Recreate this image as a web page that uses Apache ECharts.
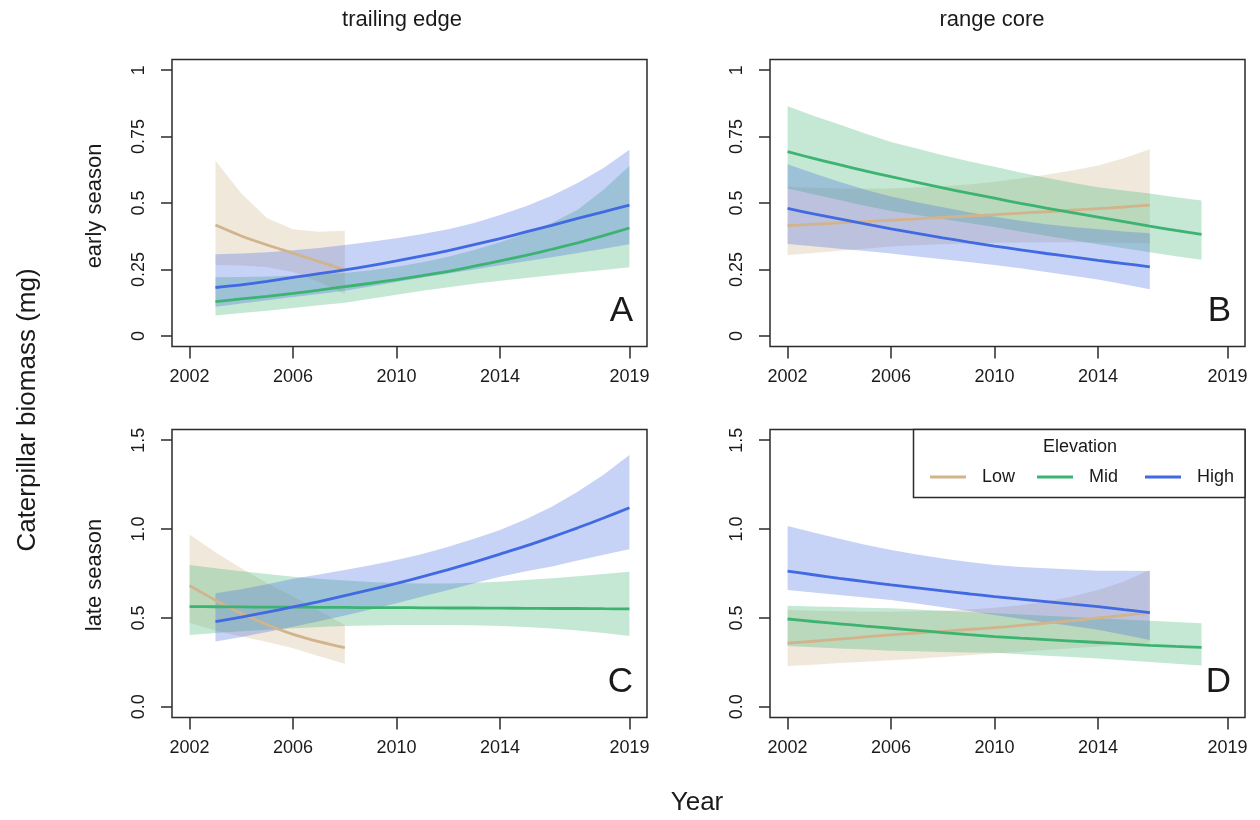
<!DOCTYPE html>
<html>
<head>
<meta charset="utf-8">
<script src="https://cdn.jsdelivr.net/npm/echarts@6/dist/echarts.min.js"></script>
<style>
  html, body { margin: 0; padding: 0; background: #ffffff; }
  #chart { width: 1260px; height: 820px; }
</style>
</head>
<body>
<div id="chart"></div>
<script>
// ---- years covered by each fitted curve ----
const YEARS_03_08 = [2003, 2004, 2005, 2006, 2007, 2008];
const YEARS_03_19 = [2003, 2004, 2005, 2006, 2007, 2008, 2009, 2010, 2011, 2012, 2013, 2014, 2015, 2016, 2017, 2018, 2019];
const YEARS_02_08 = [2002, 2003, 2004, 2005, 2006, 2007, 2008];
const YEARS_02_16 = [2002, 2003, 2004, 2005, 2006, 2007, 2008, 2009, 2010, 2011, 2012, 2013, 2014, 2015, 2016];
const YEARS_02_18 = [2002, 2003, 2004, 2005, 2006, 2007, 2008, 2009, 2010, 2011, 2012, 2013, 2014, 2015, 2016, 2017, 2018];
const YEARS_02_19 = [2002, 2003, 2004, 2005, 2006, 2007, 2008, 2009, 2010, 2011, 2012, 2013, 2014, 2015, 2016, 2017, 2018, 2019];

// ---- tick labels ----
const X_TICKS = [2002, 2006, 2010, 2014, 2019];
const Y_TICKS_EARLY = [0, 0.25, 0.5, 0.75, 1];
const Y_TICKS_LATE = [0, 0.5, 1, 1.5];

// ---- text ----
const COLUMN_TITLES = ['trailing edge', 'range core'];
const ROW_TITLES = ['early season', 'late season'];
const PANEL_LETTERS = ['A', 'B', 'C', 'D'];
const ELEVATIONS = ['Low', 'Mid', 'High'];

// ---- A: early season, trailing edge ----
const A_LOW_FIT = [0.417, 0.376, 0.342, 0.311, 0.280, 0.248];
const A_LOW_LO  = [0.267, 0.265, 0.258, 0.240, 0.203, 0.158];
const A_LOW_HI  = [0.659, 0.536, 0.443, 0.401, 0.392, 0.396];
const A_MID_FIT = [0.129, 0.139, 0.149, 0.160, 0.172, 0.185, 0.198, 0.212, 0.227, 0.243, 0.262, 0.282, 0.303, 0.326, 0.350, 0.377, 0.406];
const A_MID_LO  = [0.077, 0.086, 0.095, 0.105, 0.115, 0.125, 0.140, 0.155, 0.170, 0.183, 0.196, 0.207, 0.218, 0.228, 0.238, 0.248, 0.258];
const A_MID_HI  = [0.221, 0.222, 0.223, 0.226, 0.230, 0.237, 0.247, 0.260, 0.277, 0.298, 0.323, 0.352, 0.386, 0.425, 0.475, 0.550, 0.639];
const A_HIGH_FIT = [0.182, 0.192, 0.205, 0.220, 0.234, 0.248, 0.264, 0.282, 0.301, 0.321, 0.343, 0.366, 0.391, 0.416, 0.442, 0.467, 0.492];
const A_HIGH_LO  = [0.110, 0.122, 0.134, 0.146, 0.158, 0.170, 0.186, 0.203, 0.220, 0.235, 0.250, 0.266, 0.281, 0.296, 0.312, 0.328, 0.345];
const A_HIGH_HI  = [0.307, 0.310, 0.315, 0.322, 0.331, 0.342, 0.354, 0.367, 0.383, 0.401, 0.425, 0.455, 0.488, 0.527, 0.575, 0.632, 0.700];

// ---- B: early season, range core ----
const B_LOW_FIT = [0.415, 0.420, 0.425, 0.430, 0.435, 0.440, 0.446, 0.451, 0.456, 0.462, 0.467, 0.473, 0.479, 0.485, 0.492];
const B_LOW_LO  = [0.304, 0.312, 0.320, 0.328, 0.336, 0.341, 0.345, 0.348, 0.350, 0.351, 0.352, 0.352, 0.351, 0.350, 0.348];
const B_LOW_HI  = [0.561, 0.557, 0.555, 0.554, 0.555, 0.558, 0.563, 0.570, 0.580, 0.592, 0.606, 0.622, 0.641, 0.668, 0.702];
const B_MID_FIT = [0.693, 0.668, 0.644, 0.621, 0.599, 0.578, 0.557, 0.537, 0.518, 0.499, 0.481, 0.464, 0.447, 0.430, 0.413, 0.397, 0.382];
const B_MID_LO  = [0.555, 0.533, 0.511, 0.490, 0.470, 0.455, 0.440, 0.425, 0.410, 0.393, 0.377, 0.361, 0.345, 0.330, 0.315, 0.300, 0.286];
const B_MID_HI  = [0.864, 0.828, 0.795, 0.762, 0.730, 0.705, 0.680, 0.657, 0.636, 0.615, 0.595, 0.576, 0.559, 0.547, 0.536, 0.522, 0.509];
const B_HIGH_FIT = [0.480, 0.459, 0.440, 0.421, 0.403, 0.386, 0.369, 0.353, 0.338, 0.324, 0.310, 0.297, 0.284, 0.272, 0.260];
const B_HIGH_LO  = [0.346, 0.337, 0.328, 0.319, 0.310, 0.299, 0.288, 0.278, 0.267, 0.254, 0.240, 0.226, 0.212, 0.194, 0.175];
const B_HIGH_HI  = [0.646, 0.612, 0.580, 0.550, 0.524, 0.503, 0.484, 0.465, 0.448, 0.433, 0.420, 0.410, 0.401, 0.393, 0.386];

// ---- C: late season, trailing edge ----
const C_LOW_FIT = [0.682, 0.600, 0.526, 0.462, 0.408, 0.367, 0.333];
const C_LOW_LO  = [0.473, 0.430, 0.395, 0.365, 0.330, 0.285, 0.242];
const C_LOW_HI  = [0.970, 0.870, 0.779, 0.695, 0.620, 0.540, 0.460];
const C_MID_FIT = [0.564, 0.563, 0.562, 0.561, 0.561, 0.560, 0.559, 0.558, 0.558, 0.557, 0.556, 0.556, 0.555, 0.554, 0.553, 0.553, 0.552, 0.551];
const C_MID_LO  = [0.404, 0.415, 0.425, 0.434, 0.442, 0.449, 0.454, 0.458, 0.460, 0.461, 0.461, 0.459, 0.455, 0.449, 0.440, 0.429, 0.415, 0.399];
const C_MID_HI  = [0.798, 0.780, 0.763, 0.747, 0.732, 0.720, 0.710, 0.702, 0.697, 0.694, 0.694, 0.698, 0.704, 0.713, 0.723, 0.735, 0.747, 0.760];
const C_HIGH_FIT = [0.479, 0.505, 0.533, 0.562, 0.592, 0.625, 0.659, 0.694, 0.732, 0.772, 0.814, 0.859, 0.905, 0.955, 1.007, 1.062, 1.120];
const C_HIGH_LO  = [0.367, 0.393, 0.421, 0.450, 0.481, 0.514, 0.548, 0.583, 0.620, 0.657, 0.695, 0.732, 0.762, 0.790, 0.823, 0.855, 0.886];
const C_HIGH_HI  = [0.639, 0.662, 0.690, 0.720, 0.745, 0.770, 0.797, 0.826, 0.860, 0.900, 0.945, 0.994, 1.055, 1.125, 1.210, 1.305, 1.416];

// ---- D: late season, range core ----
const D_LOW_FIT = [0.358, 0.369, 0.381, 0.393, 0.405, 0.415, 0.425, 0.435, 0.445, 0.458, 0.471, 0.485, 0.500, 0.515, 0.530];
const D_LOW_LO  = [0.229, 0.237, 0.246, 0.254, 0.262, 0.271, 0.280, 0.290, 0.300, 0.310, 0.320, 0.330, 0.340, 0.350, 0.360];
const D_LOW_HI  = [0.545, 0.540, 0.537, 0.535, 0.535, 0.537, 0.541, 0.548, 0.558, 0.572, 0.592, 0.620, 0.657, 0.705, 0.770];
const D_MID_FIT = [0.494, 0.480, 0.467, 0.454, 0.442, 0.430, 0.418, 0.406, 0.395, 0.386, 0.378, 0.370, 0.362, 0.354, 0.346, 0.340, 0.335];
const D_MID_LO  = [0.342, 0.335, 0.328, 0.322, 0.316, 0.312, 0.309, 0.306, 0.304, 0.296, 0.288, 0.280, 0.272, 0.262, 0.252, 0.242, 0.233];
const D_MID_HI  = [0.568, 0.565, 0.561, 0.558, 0.554, 0.547, 0.540, 0.533, 0.526, 0.519, 0.512, 0.505, 0.498, 0.491, 0.484, 0.477, 0.470];
const D_HIGH_FIT = [0.764, 0.743, 0.723, 0.704, 0.686, 0.669, 0.652, 0.636, 0.620, 0.606, 0.592, 0.578, 0.564, 0.547, 0.530];
const D_HIGH_LO  = [0.657, 0.643, 0.629, 0.615, 0.601, 0.581, 0.560, 0.539, 0.517, 0.496, 0.475, 0.454, 0.433, 0.405, 0.376];
const D_HIGH_HI  = [1.017, 0.980, 0.945, 0.912, 0.882, 0.857, 0.835, 0.815, 0.798, 0.787, 0.779, 0.772, 0.766, 0.765, 0.764];

// ---- styling ----
const FONT = 'Liberation Sans, Arial, Helvetica, sans-serif';
const INK = '#1a1a1a';
const FRAME = '#2b2b2b';
const LINE_COLORS = { Low: '#d2b48c', Mid: '#3cb371', High: '#4169e1' };
const BAND_COLORS = {
  Low: 'rgba(210,180,140,0.30)',
  Mid: 'rgba(60,179,113,0.30)',
  High: 'rgba(65,105,225,0.30)'
};

// Each panel: one band + fitted curve per elevation class
const PANELS = [
  { yMin: -0.04, yMax: 1.04, yTicks: Y_TICKS_EARLY, late: false, groups: [
    { name: 'Low',  years: YEARS_03_08, fit: A_LOW_FIT,  lo: A_LOW_LO,  hi: A_LOW_HI },
    { name: 'Mid',  years: YEARS_03_19, fit: A_MID_FIT,  lo: A_MID_LO,  hi: A_MID_HI },
    { name: 'High', years: YEARS_03_19, fit: A_HIGH_FIT, lo: A_HIGH_LO, hi: A_HIGH_HI } ] },
  { yMin: -0.04, yMax: 1.04, yTicks: Y_TICKS_EARLY, late: false, groups: [
    { name: 'Low',  years: YEARS_02_16, fit: B_LOW_FIT,  lo: B_LOW_LO,  hi: B_LOW_HI },
    { name: 'Mid',  years: YEARS_02_18, fit: B_MID_FIT,  lo: B_MID_LO,  hi: B_MID_HI },
    { name: 'High', years: YEARS_02_16, fit: B_HIGH_FIT, lo: B_HIGH_LO, hi: B_HIGH_HI } ] },
  { yMin: -0.06, yMax: 1.56, yTicks: Y_TICKS_LATE, late: true, groups: [
    { name: 'Low',  years: YEARS_02_08, fit: C_LOW_FIT,  lo: C_LOW_LO,  hi: C_LOW_HI },
    { name: 'Mid',  years: YEARS_02_19, fit: C_MID_FIT,  lo: C_MID_LO,  hi: C_MID_HI },
    { name: 'High', years: YEARS_03_19, fit: C_HIGH_FIT, lo: C_HIGH_LO, hi: C_HIGH_HI } ] },
  { yMin: -0.06, yMax: 1.56, yTicks: Y_TICKS_LATE, late: true, groups: [
    { name: 'Low',  years: YEARS_02_16, fit: D_LOW_FIT,  lo: D_LOW_LO,  hi: D_LOW_HI },
    { name: 'Mid',  years: YEARS_02_18, fit: D_MID_FIT,  lo: D_MID_LO,  hi: D_MID_HI },
    { name: 'High', years: YEARS_02_16, fit: D_HIGH_FIT, lo: D_HIGH_LO, hi: D_HIGH_HI } ] }
];

// plot boxes (pixels)
const BOXES = [
  { left: 172, top: 59.5,  width: 475, height: 287 },
  { left: 770, top: 59.5,  width: 475, height: 287 },
  { left: 172, top: 429.5, width: 475, height: 288 },
  { left: 770, top: 429.5, width: 475, height: 288 }
];

const grids = [], xAxes = [], yAxes = [], series = [];

PANELS.forEach((panel, p) => {
  grids.push(Object.assign({
    show: true, borderColor: FRAME, borderWidth: 1.5,
    backgroundColor: 'transparent', containLabel: false
  }, BOXES[p]));

  xAxes.push({
    type: 'value', gridIndex: p, min: 2001.32, max: 2019.68,
    axisLine: { show: false, onZero: false },
    axisTick: { show: true, customValues: X_TICKS, length: 12, lineStyle: { color: FRAME, width: 1.5 } },
    axisLabel: { customValues: X_TICKS, margin: 22, fontSize: 18, fontFamily: FONT, color: INK,
                 formatter: v => String(v) },
    splitLine: { show: false }
  });

  yAxes.push({
    type: 'value', gridIndex: p, min: panel.yMin, max: panel.yMax,
    axisLine: { show: false, onZero: false },
    axisTick: { show: true, customValues: panel.yTicks, length: 11, lineStyle: { color: FRAME, width: 1.5 } },
    axisLabel: { customValues: panel.yTicks, rotate: 90, margin: 24, fontSize: 18, fontFamily: FONT, color: INK,
                 formatter: v => panel.late ? v.toFixed(1) : String(v) },
    splitLine: { show: false }
  });

  panel.groups.forEach(g => {
    // confidence band as one filled polygon in data coordinates
    series.push({
      type: 'custom', xAxisIndex: p, yAxisIndex: p, silent: true, z: 2,
      data: g.years.map((y, i) => [y, g.lo[i], g.hi[i]]),
      encode: { x: 0, y: [1, 2] },
      renderItem: (params, api) => {
        if (params.dataIndex !== 0) return null;
        const pts = [];
        for (let i = 0; i < g.years.length; i++) pts.push(api.coord([g.years[i], g.hi[i]]));
        for (let i = g.years.length - 1; i >= 0; i--) pts.push(api.coord([g.years[i], g.lo[i]]));
        return { type: 'polygon', shape: { points: pts }, style: { fill: BAND_COLORS[g.name] } };
      }
    });
    // fitted curve
    series.push({
      type: 'line', name: g.name, xAxisIndex: p, yAxisIndex: p, silent: true, z: 2,
      data: g.years.map((y, i) => [y, g.fit[i]]),
      symbol: 'none', showSymbol: false, smooth: 0.3,
      lineStyle: { color: LINE_COLORS[g.name], width: 2.8 },
      itemStyle: { color: LINE_COLORS[g.name] }
    });
  });
});

function label(text, x, y, size, rot, align) {
  return {
    type: 'text', x: x, y: y, rotation: rot || 0, silent: true, z: 10,
    style: {
      text: text, fontSize: size, fontFamily: FONT, fill: INK,
      textAlign: align || 'center', textVerticalAlign: 'middle',
      align: align || 'center', verticalAlign: 'middle'
    }
  };
}

const graphics = [
  label(COLUMN_TITLES[0], 402, 20, 22),
  label(COLUMN_TITLES[1], 992, 20, 22),
  label(ROW_TITLES[0], 95, 206, 22, Math.PI / 2),
  label(ROW_TITLES[1], 95, 575, 22, Math.PI / 2),
  label('Caterpillar biomass (mg)', 28, 410, 26, Math.PI / 2),
  label('Year', 697, 803, 26)
];

// panel letters at the lower-right corner of each box
const LETTER_POS = [[633, 311], [1231, 311], [633, 682], [1231, 682]];
PANEL_LETTERS.forEach((t, i) => {
  graphics.push(label(t, LETTER_POS[i][0], LETTER_POS[i][1], 35, 0, 'right'));
});

// legend box in panel D
graphics.push({
  type: 'rect', silent: true, z: 9,
  shape: { x: 913.5, y: 429.5, width: 331.5, height: 68 },
  style: { fill: '#ffffff', stroke: FRAME, lineWidth: 1.5 }
});
graphics.push(label('Elevation', 1080, 447, 18));
const LEG_X = [930, 1037, 1145];
ELEVATIONS.forEach((name, i) => {
  graphics.push({
    type: 'line', silent: true, z: 10,
    shape: { x1: LEG_X[i], y1: 477, x2: LEG_X[i] + 36, y2: 477 },
    style: { stroke: LINE_COLORS[name], lineWidth: 2.8 }
  });
  graphics.push(label(name, LEG_X[i] + 52, 477, 18, 0, 'left'));
});

const chart = echarts.init(document.getElementById('chart'), null, { renderer: 'canvas' });
chart.setOption({
  animation: false,
  backgroundColor: '#ffffff',
  textStyle: { fontFamily: FONT },
  grid: grids,
  xAxis: xAxes,
  yAxis: yAxes,
  series: series,
  graphic: graphics
});
</script>
</body>
</html>
